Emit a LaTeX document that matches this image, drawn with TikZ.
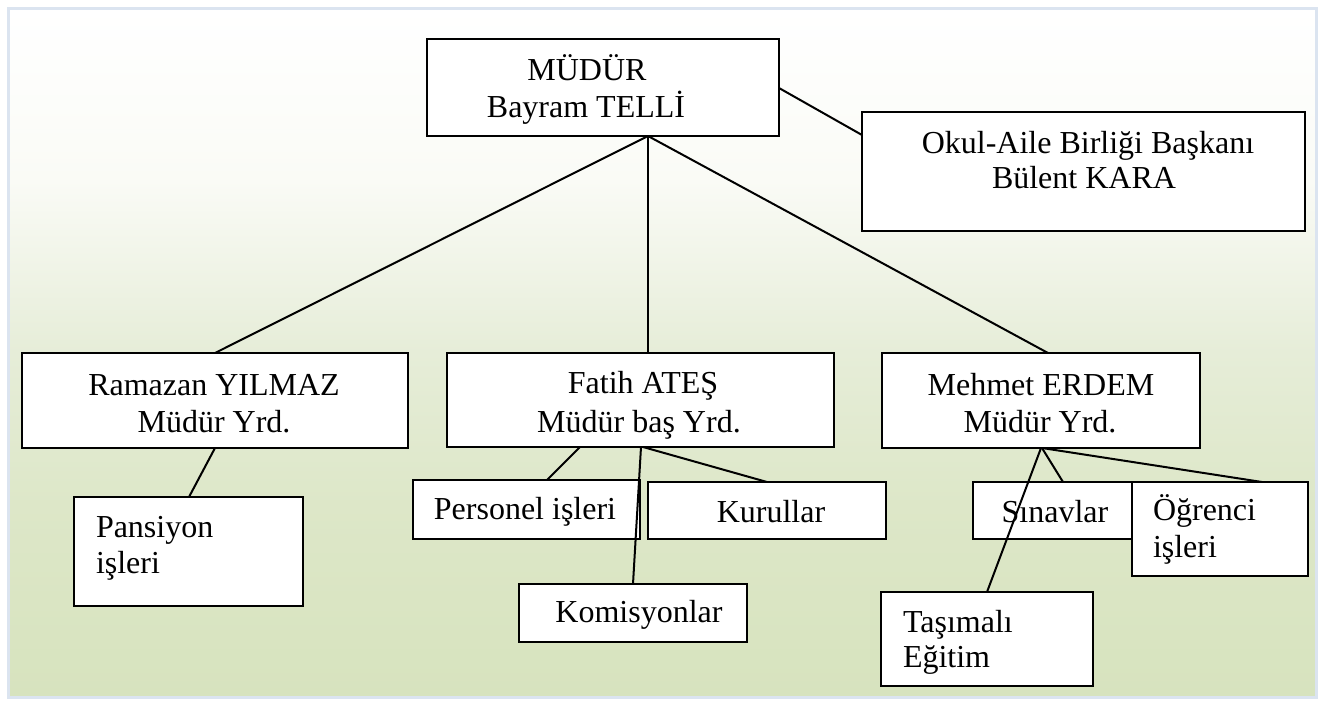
\documentclass[tikz,border=0pt]{standalone}
\usepackage{fontspec}
\setmainfont{Liberation Serif}
\usetikzlibrary{calc}
\definecolor{bgA}{HTML}{FAFBF6}
\definecolor{bgB}{HTML}{E6EDD8}
\definecolor{bgC}{HTML}{DDE7C8}
\definecolor{bgD}{HTML}{D7E3BE}
\definecolor{framec}{HTML}{DBE4F0}
\pgfdeclareverticalshading{bgshade}{100bp}{color(0bp)=(bgD); color(25bp)=(bgD); color(39bp)=(bgC); color(50bp)=(bgB); color(62.5bp)=(bgA); color(75bp)=(white); color(100bp)=(white)}
\tikzset{
  boxstyle/.style={draw=black, fill=white, line width=1.1pt, rectangle, inner sep=0pt, outer sep=0pt},
  conn/.style={draw=black, line width=1pt},
  txt/.style={inner sep=0pt, outer sep=0pt, font=\fontsize{16}{19}\selectfont, text=black}
}
\newcommand\mkbox[5]{\node[boxstyle, minimum width={(#4-#2)*0.5pt}, minimum height={(#5-#3)*0.5pt}] (#1) at ({(#2+#4)/2},{(#3+#5)/2}) {};}
\begin{document}
\begin{tikzpicture}[x=0.5pt, y=-0.5pt]
\useasboundingbox (0,0) rectangle (1330,702);
\fill[white] (0,0) rectangle (1330,702);
\shade[shading=bgshade] (8,8) rectangle (1316,697);
\draw[framec, line width=1.5pt] (8,8) rectangle (1316,697);
% boxes
\mkbox{mudur}{427}{39}{779}{136}
\mkbox{okul}{862}{112}{1305}{231}
\mkbox{ram}{22}{353}{408}{448}
\mkbox{fatih}{447}{353}{834}{447}
\mkbox{mehmet}{882}{353}{1200}{448}
\mkbox{pans}{74}{497}{303}{606}
\mkbox{pers}{413}{480}{640}{539}
\mkbox{kur}{648}{482}{886}{539}
\mkbox{kom}{519}{584}{747}{642}
\mkbox{sin}{973}{482}{1132}{539}
\mkbox{ogr}{1132}{482}{1308}{576}
\mkbox{tas}{881}{592}{1093}{686}
% connectors
\draw[conn] ($(mudur.south west)+(221,0)$) -- ($(ram.north west)+(193,0)$);
\draw[conn] ($(mudur.south west)+(221,0)$) -- ($(fatih.north west)+(201,0)$);
\draw[conn] ($(mudur.south west)+(221,0)$) -- ($(mehmet.north west)+(166,0)$);
\draw[conn] ($(mudur.north east)+(0,49)$) -- ($(okul.north west)+(0,23)$);
\draw[conn] ($(ram.south west)+(193,0)$) -- ($(pans.north west)+(115,0)$);
\draw[conn] ($(fatih.south west)+(133,0)$) -- ($(pers.north west)+(134,0)$);
\draw[conn] ($(fatih.south west)+(194,0)$) -- ($(kom.north west)+(114,0)$);
\draw[conn] ($(fatih.south west)+(196,0)$) -- ($(kur.north west)+(119,0)$);
\draw[conn] ($(mehmet.south west)+(160,0)$) -- ($(sin.north west)+(90,0)$);
\draw[conn] ($(mehmet.south west)+(160,0)$) -- ($(ogr.north west)+(130,0)$);
\draw[conn] ($(mehmet.south west)+(159,0)$) -- ($(tas.north west)+(106,0)$);
% texts
\node[txt, anchor=base] (mudurA) at (587,80) {MÜDÜR};
\node[txt, anchor=base] (mudurB) at (586,117) {Bayram TELLİ};
\node[txt, anchor=base] (okulA) at (1088,153) {Okul-Aile Birliği Başkanı};
\node[txt, anchor=base] (okulB) at (1084,188) {Bülent KARA};
\node[txt, anchor=base] (ramA) at (214,395) {Ramazan YILMAZ};
\node[txt, anchor=base] (ramB) at (214,432) {Müdür Yrd.};
\node[txt, anchor=base] (fatihA) at (643,393) {Fatih ATEŞ};
\node[txt, anchor=base] (fatihB) at (639,432) {Müdür baş Yrd.};
\node[txt, anchor=base] (mehmetA) at (1041,395) {Mehmet ERDEM};
\node[txt, anchor=base] (mehmetB) at (1040,432) {Müdür Yrd.};
\node[txt, anchor=base west] (pansA) at (96,537) {Pansiyon};
\node[txt, anchor=base west] (pansB) at (96,573) {işleri};
\node[txt, anchor=base] (persA) at (525,519) {Personel işleri};
\node[txt, anchor=base] (kurA) at (771,522) {Kurullar};
\node[txt, anchor=base] (komA) at (639,622) {Komisyonlar};
\node[txt, anchor=base] (sinA) at (1055,522) {Sınavlar};
\node[txt, anchor=base west] (ogrA) at (1153,520) {Öğrenci};
\node[txt, anchor=base west] (ogrB) at (1153,557) {işleri};
\node[txt, anchor=base west] (tasA) at (903,632) {Taşımalı};
\node[txt, anchor=base west] (tasB) at (903,667) {Eğitim};
\end{tikzpicture}
\end{document}
